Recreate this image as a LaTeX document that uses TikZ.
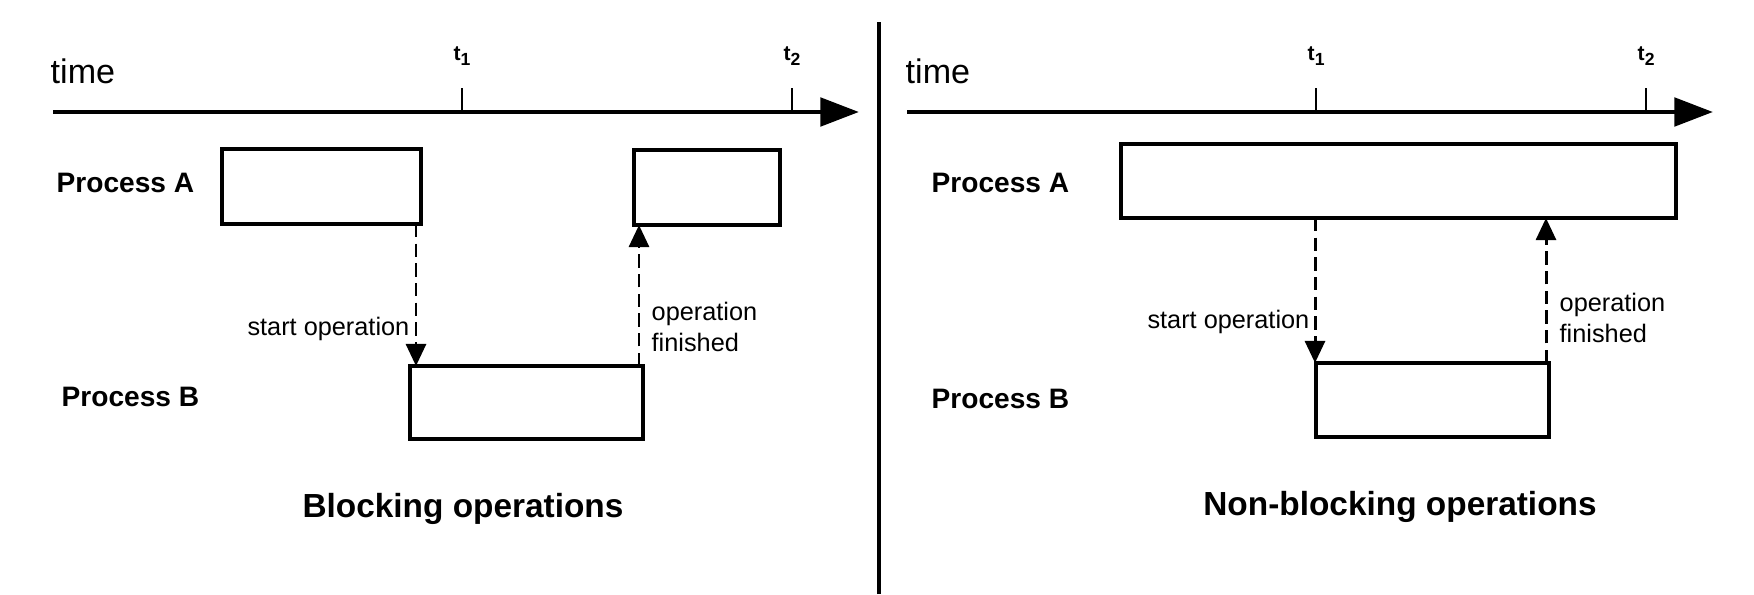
\documentclass[tikz,border=0pt]{standalone}
\usepackage{fontspec}
\setmainfont{Liberation Sans}
\usetikzlibrary{arrows.meta}

\tikzset{
    timeaxis/.style={line width=1.4pt, -{Triangle[length=11pt,width=8pt]}},
    tickline/.style={line width=0.8pt},
    ticklabel/.style={font=\fontsize{6}{7}\selectfont\bfseries},
    timelabel/.style={anchor=base west, inner sep=0pt, font=\fontsize{9.7}{11}\selectfont},
    procbox/.style={draw, line width=0.9pt, inner sep=0pt, outer sep=0pt},
    proclabel/.style={anchor=base west, inner sep=0pt, font=\fontsize{8}{9.6}\selectfont\bfseries},
    oplabel/.style={inner sep=0pt, align=left, font=\fontsize{7.2}{8.8}\selectfont},
    opline/.style={line width=0.85pt, dash pattern=on 3.8pt off 1.8pt, -{Triangle[width=5.7pt,length=6.3pt]}},
    caption/.style={anchor=base, inner sep=0pt, font=\fontsize{9.5}{11}\selectfont\bfseries},
}

\begin{document}
\begin{tikzpicture}
    \useasboundingbox (0,0) rectangle (17.54,5.94);

    % Draw the time lines, ticks and labels
    \foreach \o/\s in {0/L,8.54/R} {
        \draw[timeaxis] (0.53+\o,4.82) -- (8.59+\o,4.82);
        \draw[tickline] (4.62+\o,4.82) -- (4.62+\o,5.06);
        \draw[tickline] (7.92+\o,4.82) -- (7.92+\o,5.06);
        \node[ticklabel] (tone\s) at (4.63+\o,5.38) {t\textsubscript{1}};
        \node[ticklabel] (ttwo\s) at (7.93+\o,5.38) {t\textsubscript{2}};
        \node[timelabel] (time\s) at (0.50+\o+0.01*\o/8.54,5.11) {time};
    }

    % Divider between the two halves
    \draw[line width=1.1pt] (8.79,0) -- (8.79,5.72);

    % Blocking operations
    \node[proclabel] (procAL) at (0.56,4.01) {Process A};
    \node[proclabel] (procBL) at (0.61,1.88) {Process B};
    \node[procbox, minimum width=1.99cm, minimum height=0.75cm] (boxAL) at (3.215,4.075) {};
    \node[procbox, minimum width=1.46cm, minimum height=0.75cm] (boxAAL) at (7.07,4.065) {};
    \node[procbox, minimum width=2.33cm, minimum height=0.73cm] (boxBL) at (5.265,1.915) {};
    \coordinate (startL) at (4.16,0);
    \coordinate (finL) at (6.39,0);
    \draw[opline] (startL |- boxAL.south) -- (startL |- boxBL.north);
    \draw[opline] (finL |- boxBL.north) -- (finL |- boxAAL.south);
    \node[oplabel, anchor=base east] (startopL) at (4.10,2.59) {start operation};
    \node[oplabel, anchor=west] (finopL) at (6.51,2.67) {operation\\finished};
    \node[caption] (capL) at (4.63,0.77) {Blocking operations};

    % Non-blocking operations
    \node[proclabel] (procAR) at (9.31,4.01) {Process A};
    \node[proclabel] (procBR) at (9.31,1.86) {Process B};
    \node[procbox, minimum width=5.55cm, minimum height=0.74cm] (boxAR) at (13.985,4.13) {};
    \node[procbox, minimum width=2.33cm, minimum height=0.74cm] (boxBR) at (14.325,1.94) {};
    \coordinate (startR) at (13.15,0);
    \coordinate (finR) at (15.46,0);
    \draw[opline] (startR |- boxAR.south) -- (startR |- boxBR.north);
    \draw[opline] (finR |- boxBR.north) -- (finR |- boxAR.south);
    \node[oplabel, anchor=base east] (startopR) at (13.10,2.66) {start operation};
    \node[oplabel, anchor=west] (finopR) at (15.59,2.76) {operation\\finished};
    \node[caption] (capR) at (14.00,0.79) {Non-blocking operations};
\end{tikzpicture}
\end{document}
